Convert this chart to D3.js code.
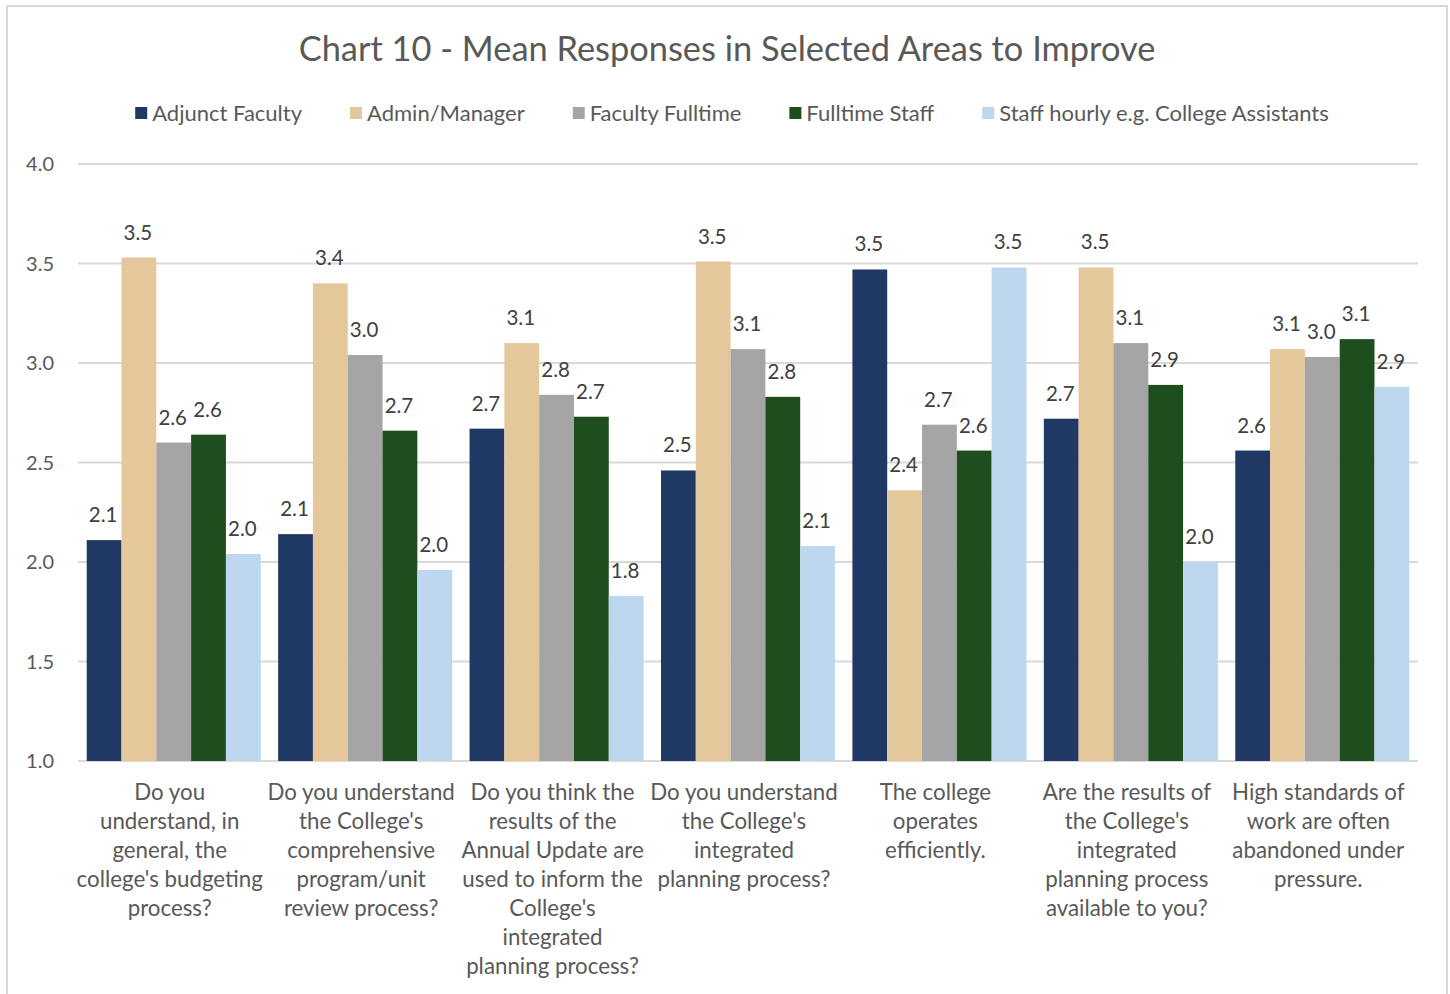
<!DOCTYPE html>
<html>
<head>
<meta charset="utf-8">
<script src="https://cdn.jsdelivr.net/npm/d3@7"></script>
<style>
  html, body { margin: 0; padding: 0; background: #fff; }
  svg { display: block; font-family: Lato, "Open Sans", sans-serif; }
</style>
</head>
<body>
<svg id="chart" width="1450" height="994"></svg>
<script>
const title = "Chart 10 - Mean Responses in Selected Areas to Improve";
const seriesNames = ["Adjunct Faculty", "Admin/Manager", "Faculty Fulltime", "Fulltime Staff", "Staff hourly e.g. College Assistants"];
const seriesColors = ["#1f3864", "#e4c79b", "#a5a5a5", "#1f4e1e", "#bdd7ee"];
const categoryLines = [
  ["Do you", "understand, in", "general, the", "college's budgeting", "process?"],
  ["Do you understand", "the College's", "comprehensive", "program/unit", "review process?"],
  ["Do you think the", "results of the", "Annual Update are", "used to inform the", "College's", "integrated", "planning process?"],
  ["Do you understand", "the College's", "integrated", "planning process?"],
  ["The college", "operates", "efficiently."],
  ["Are the results of", "the College's", "integrated", "planning process", "available to you?"],
  ["High standards of", "work are often", "abandoned under", "pressure."]
];
const adjunctFaculty  = [2.11, 2.14, 2.67, 2.46, 3.47, 2.72, 2.56];
const adminManager    = [3.53, 3.40, 3.10, 3.51, 2.36, 3.48, 3.07];
const facultyFulltime = [2.60, 3.04, 2.84, 3.07, 2.69, 3.10, 3.03];
const fulltimeStaff   = [2.64, 2.66, 2.73, 2.83, 2.56, 2.89, 3.12];
const staffHourly     = [2.04, 1.96, 1.83, 2.08, 3.48, 2.00, 2.88];
const yTicks = [1.0, 1.5, 2.0, 2.5, 3.0, 3.5, 4.0];

const seriesValues = [adjunctFaculty, adminManager, facultyFulltime, fulltimeStaff, staffHourly];

const svg = d3.select("#chart");

// outer border
svg.append("rect").attr("x", 7).attr("y", 6).attr("width", 1440).attr("height", 1000)
  .attr("fill", "#fff").attr("stroke", "#d9d9d9").attr("stroke-width", 2);

const plot = {left: 78, right: 1418, top: 164, bottom: 761};

const y = d3.scaleLinear().domain([1, 4]).range([plot.bottom, plot.top]);
const x0 = d3.scaleBand().domain(d3.range(categoryLines.length)).range([plot.left, plot.right]).paddingInner(0).paddingOuter(0);
const x1 = d3.scaleBand().domain(d3.range(seriesNames.length))
  .range([0, x0.bandwidth()]).paddingInner(0).paddingOuter(0.25);

// gridlines
svg.append("g").selectAll("line").data(yTicks).join("line")
  .attr("x1", plot.left).attr("x2", plot.right)
  .attr("y1", d => y(d)).attr("y2", d => y(d))
  .attr("stroke", "#d9d9d9").attr("stroke-width", 2);

// y tick labels
svg.append("g").selectAll("text").data(yTicks).join("text")
  .attr("x", 54).attr("y", d => y(d)).attr("dy", "0.35em")
  .attr("text-anchor", "end").attr("font-size", 20).attr("fill", "#595959")
  .text(d => d.toFixed(1));

// bars
const groups = svg.append("g").selectAll("g").data(d3.range(categoryLines.length)).join("g")
  .attr("transform", i => `translate(${x0(i)},0)`);

groups.selectAll("rect").data(i => seriesValues.map((s, k) => ({k, v: s[i]}))).join("rect")
  .attr("x", d => x1(d.k)).attr("width", x1.bandwidth())
  .attr("y", d => y(d.v)).attr("height", d => y(1) - y(d.v))
  .attr("fill", d => seriesColors[d.k]);

groups.selectAll("text").data(i => seriesValues.map((s, k) => ({k, v: s[i]}))).join("text")
  .attr("x", d => x1(d.k) + x1.bandwidth() / 2 - 1).attr("y", d => y(d.v) - 18)
  .attr("text-anchor", "middle").attr("font-size", 20.5).attr("fill", "#404040")
  .text(d => d.v.toFixed(1));

// category labels
const catG = svg.append("g").selectAll("text").data(categoryLines).join("text")
  .attr("text-anchor", "middle").attr("font-size", 22.3).attr("fill", "#595959");
catG.each(function(lines, i) {
  d3.select(this).selectAll("tspan").data(lines).join("tspan")
    .attr("x", x0(i) + x0.bandwidth() / 2 - 4)
    .attr("y", (d, j) => 800 + j * 29)
    .text(d => d);
});

// title
svg.append("text").attr("x", 727).attr("y", 61).attr("text-anchor", "middle")
  .attr("font-size", 34.4).attr("fill", "#595959").text(title);

// legend
const legend = svg.append("g");
let cx = 0;
seriesNames.forEach((name, k) => {
  const g = legend.append("g").attr("transform", `translate(${cx},0)`);
  g.append("rect").attr("x", 0).attr("y", -6).attr("width", 12).attr("height", 12).attr("fill", seriesColors[k]);
  const t = g.append("text").attr("x", 17).attr("y", 0).attr("dy", "0.35em")
    .attr("font-size", 22).attr("fill", "#595959").text(name);
  const w = t.node().getComputedTextLength();
  cx += 17 + w + (k < seriesNames.length - 1 ? 48 : 0);
});
legend.attr("transform", `translate(${732 - cx / 2},113)`);
</script>
</body>
</html>
